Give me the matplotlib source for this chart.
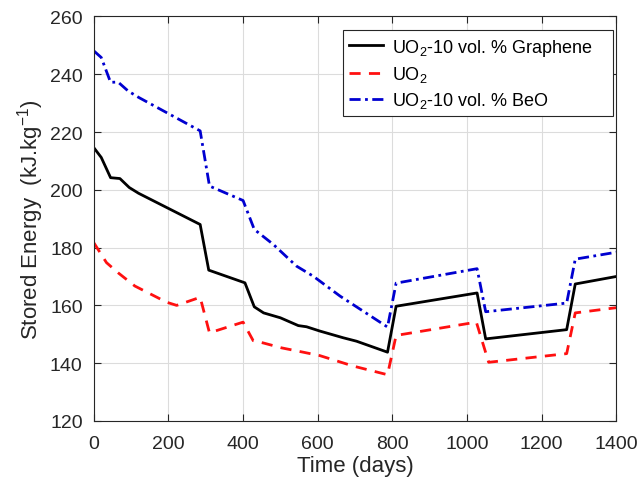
import numpy as np
import matplotlib
matplotlib.use("Agg")
import matplotlib.pyplot as plt

plt.rcParams['font.family'] = ['Liberation Sans', 'DejaVu Sans']
plt.rcParams['mathtext.fontset'] = 'custom'
plt.rcParams['mathtext.rm'] = 'Liberation Sans'

# UO2-10 vol.% Graphene
t_gr = [0, 20, 45, 70, 95, 120, 285, 308, 405, 430, 455, 500, 548, 570, 606,
        668, 704, 787, 810, 1027, 1050, 1267, 1290, 1400]
e_gr = [214.6, 211.2, 204.2, 203.9, 200.8, 198.8, 188.0, 172.2, 167.8, 159.5,
        157.4, 155.7, 153.0, 152.6, 151.1, 148.8, 147.6, 143.8, 159.7, 164.3,
        148.4, 151.6, 167.4, 170.0]

# UO2
t_uo2 = [0, 34, 65, 110, 195, 222, 285, 310, 400, 427, 454, 503, 561, 606,
         695, 787, 810, 1025, 1058, 1267, 1290, 1400]
e_uo2 = [181.7, 174.8, 171.3, 166.7, 161.1, 160.0, 162.8, 150.5, 154.2, 147.8,
         147.0, 145.3, 143.8, 142.6, 139.0, 136.0, 149.6, 154.2, 140.3, 143.3,
         157.4, 159.2]

# UO2-10 vol.% BeO
t_beo = [0, 20, 45, 65, 92, 120, 285, 310, 400, 430, 481, 543, 588, 660, 787,
         810, 1027, 1050, 1267, 1290, 1400]
e_beo = [248.1, 245.8, 237.2, 237.3, 234.2, 232.0, 220.4, 201.3, 196.3, 186.3,
         181.1, 173.6, 170.1, 163.2, 152.5, 167.7, 172.7, 157.8, 160.8, 176.0,
         178.4]

fig = plt.figure(figsize=(6.38, 4.85), dpi=100)
ax = fig.add_axes([0.147, 0.130, 0.819, 0.834])

ax.plot(t_gr, e_gr, color='k', lw=2.0, label='UO$_2$-10 vol. % Graphene')
ax.plot(t_uo2, e_uo2, color='#ff1010', lw=2.0, ls=(0, (4, 3)), label='UO$_2$')
ax.plot(t_beo, e_beo, color='#0000d0', lw=2.0, ls=(0, (4, 1.6, 1, 1.6)),
        label='UO$_2$-10 vol. % BeO')

ax.set_xlim(0, 1400)
ax.set_ylim(120, 260)
ax.set_xticks(np.arange(0, 1401, 200))
ax.set_yticks(np.arange(120, 261, 20))
ax.grid(True, color='#dcdcdc', lw=0.8)
ax.set_axisbelow(True)
ax.tick_params(direction='in', top=True, right=True, labelsize=14,
               colors='#262626', length=5, width=0.8)
ax.tick_params(axis='x', pad=10)
ax.tick_params(axis='y', pad=8)
for s in ax.spines.values():
    s.set_color('#262626')
    s.set_linewidth(0.8)

ax.set_xlabel('Time (days)', fontsize=16, color='#262626', labelpad=2)
ax.set_ylabel('Stored Energy  (kJ.kg$^{-1}$)', fontsize=16, color='#262626',
              labelpad=3)

# legend box spans x 343..613 px, top at 31 px, text left-aligned
leg = ax.legend(loc='upper left', bbox_to_anchor=(0.477, 0.5, 0.517, 0.466),
                mode='expand', fontsize=13, handlelength=1.85,
                fancybox=False, framealpha=1, borderaxespad=0,
                labelspacing=0.35, handletextpad=0.5, borderpad=0.35)
leg.get_frame().set_edgecolor('#262626')
leg.get_frame().set_linewidth(0.8)

fig.savefig('out.png', dpi=100)
